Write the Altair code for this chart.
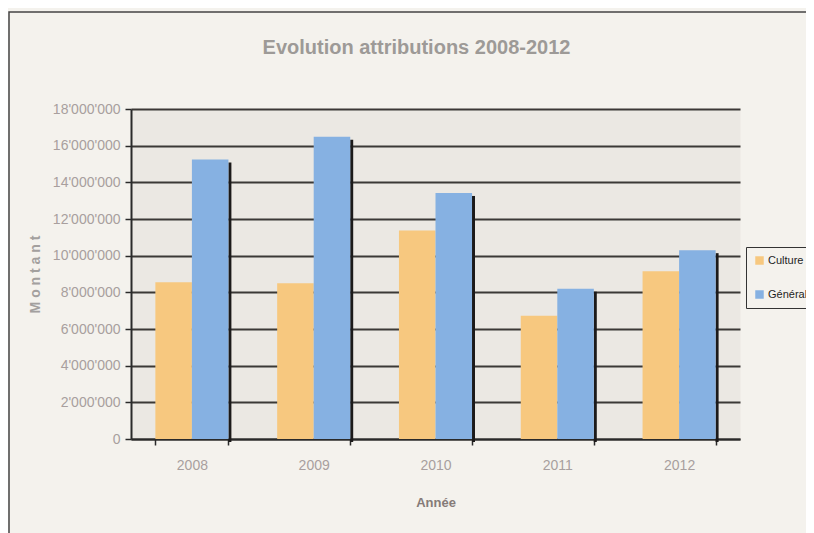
import altair as alt
import pandas as pd

years = ["2008", "2009", "2010", "2011", "2012"]
series_names = ["Culture", "Général"]
culture = [8550000, 8500000, 11370000, 6720000, 9150000]
general = [15240000, 16490000, 13420000, 8200000, 10300000]
y_ticks = [0, 2000000, 4000000, 6000000, 8000000, 10000000, 12000000, 14000000, 16000000, 18000000]
colors = ["#f7c87f", "#86b1e2"]

rows = []
for i, yr in enumerate(years):
    rows.append({"annee": yr, "serie": series_names[0], "montant": culture[i]})
    rows.append({"annee": yr, "serie": series_names[1], "montant": general[i]})
df = pd.DataFrame(rows)
df_gen = pd.DataFrame({"annee": years, "montant": general})

FONT = "Liberation Sans, Arial"

x_axis = alt.Axis(
    title="Année",
    titleFont=FONT,
    titleFontSize=13,
    titleFontWeight="bold",
    titleColor="#857b78",
    titlePadding=24,
    labelFont=FONT,
    labelFontSize=14,
    labelColor="#a89f9e",
    labelPadding=13,
    labelAngle=0,
    tickBand="extent",
    tickSize=6,
    tickColor="#2a2a2a",
    tickWidth=1.5,
    domainColor="#2a2a2a",
    domainWidth=2,
    grid=False,
)
x_scale = alt.Scale(domain=years, paddingInner=0.4, paddingOuter=0.2)
xoff_enc = alt.XOffset("serie:N", sort=series_names,
                       scale=alt.Scale(domain=series_names, paddingInner=0, paddingOuter=0))
y_axis = alt.Axis(
    title="M o n t a n t",
    titleFont=FONT,
    titleFontSize=14,
    titleFontWeight="bold",
    titleColor="#a3a09e",
    titlePadding=10,
    values=y_ticks,
    labelExpr="replace(replace(format(datum.value, ','), ',', \"'\"), ',', \"'\")",
    labelFont=FONT,
    labelFontSize=14,
    labelColor="#a89f9e",
    labelPadding=5,
    tickSize=6,
    tickColor="#2a2a2a",
    tickWidth=1.5,
    domainColor="#2a2a2a",
    domainWidth=2,
    grid=True,
    gridColor="#3b3836",
    gridWidth=1.8,
)
y_scale = alt.Scale(domain=[0, 18000000], nice=False)

shadow = alt.Chart(df_gen).mark_bar(
    color="#1c1a1a", width=3, xOffset=38, yOffset=3, y2Offset=-1
).encode(
    x=alt.X("annee:N", sort=years, scale=x_scale, axis=x_axis),
    y=alt.Y("montant:Q", scale=y_scale, axis=y_axis),
)

bars = alt.Chart(df).mark_bar().encode(
    x=alt.X("annee:N", sort=years, scale=x_scale, axis=x_axis),
    xOffset=xoff_enc,
    y=alt.Y("montant:Q", scale=y_scale, axis=y_axis),
    color=alt.Color(
        "serie:N",
        sort=series_names,
        scale=alt.Scale(domain=series_names, range=colors),
        legend=alt.Legend(
            title=None,
            orient="none",
            legendX=615,
            legendY=138,
            direction="vertical",
            symbolType="square",
            symbolSize=72,
            symbolStrokeWidth=0,
            symbolOffset=0,
            labelOffset=3,
            labelFont=FONT,
            labelFontSize=11,
            labelColor="#1e1e1e",
            rowPadding=22,
            padding=8,
            strokeColor="#333333",
            fillColor="#f4f2ed",
        ),
    ),
)

frame = alt.Chart(pd.DataFrame({"k": [0]})).mark_rect(
    fill="transparent", stroke="#444444", strokeWidth=1.5
).encode(
    x=alt.value(-122), x2=alt.value(760), y=alt.value(-97), y2=alt.value(600)
)

chart = alt.layer(shadow, bars, frame).properties(
    width=609,
    height=330,
    padding={"left": 123, "top": 101, "right": 66, "bottom": 94},
    autosize=alt.AutoSizeParams(type="none"),
    background="#f4f2ed",
    title=alt.Title(
        "Evolution attributions 2008-2012",
        font=FONT,
        fontSize=20,
        fontWeight="bold",
        color="#9d9a97",
        anchor="middle",
        frame="group",
        dx=-19,
        offset=-47,
    ),
).configure_view(fill="#ebe8e3", stroke="transparent")

chart.save("out.html", embed_options={"renderer": "svg", "actions": False})
